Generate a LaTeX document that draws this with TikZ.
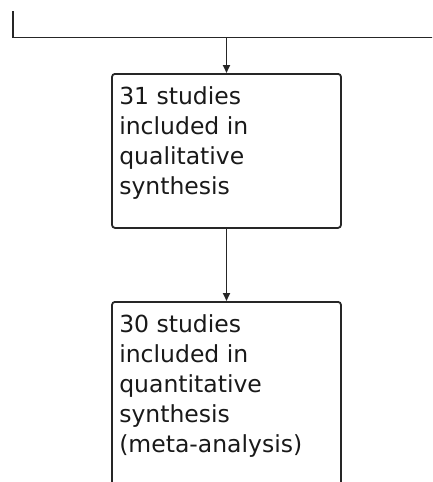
\documentclass[tikz,border=0pt]{standalone}
\usepackage{fontspec}
\setmainfont{DejaVu Sans}
\usetikzlibrary{arrows.meta}
\begin{document}
\begin{tikzpicture}[x=1pt,y=-1pt,
  conn/.style={line width=1.8pt, draw=black!85},
  arr/.style={conn, -{Triangle[width=7pt,length=8pt]}},
  boxnode/.style={draw=black!85, line width=1.8pt, rounded corners=3pt, minimum width=229pt, inner sep=0pt, anchor=north},
  txt/.style={inner sep=0pt, anchor=north west, align=left, text=black!90, font=\fontsize{23.5}{30}\selectfont}
]
\useasboundingbox (0,0) rectangle (432,482);
\clip (0,0) rectangle (432,482);
\coordinate (tl) at (13.3,11);
\coordinate (corner) at (13.3,37.5);
\coordinate (tr) at (433,37.5);
\coordinate (split) at (226.5,37.5);
\draw[conn] (tl) -- (corner) -- (tr);
\node[boxnode, minimum height=154pt] (b1) at (226.5,73) {};
\node[boxnode, minimum height=220pt] (b2) at (226.5,301) {};
\node[txt] (t1) at ([xshift=8pt,yshift=-13pt]b1.north west) {31 studies\\included in\\qualitative\\synthesis};
\node[txt] (t2) at ([xshift=8pt,yshift=-13pt]b2.north west) {30 studies\\included in\\quantitative\\synthesis\\(meta-analysis)};
\draw[arr] (split) -- (b1.north);
\draw[arr] (b1.south) -- (b2.north);
\end{tikzpicture}
\end{document}
